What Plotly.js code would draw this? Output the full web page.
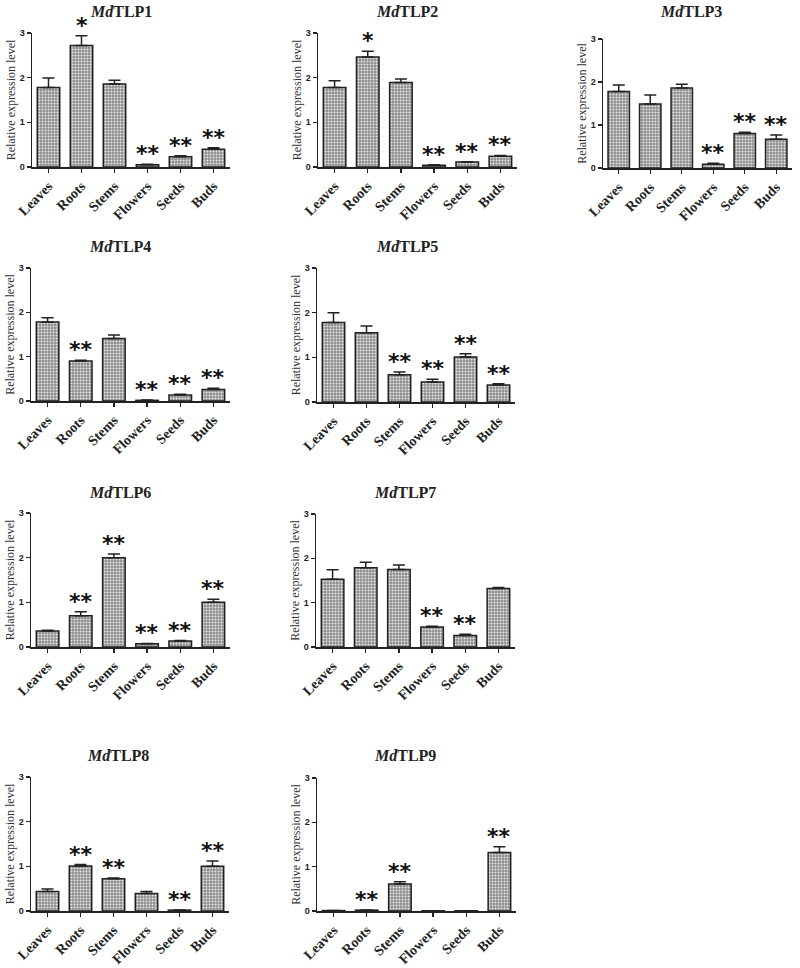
<!DOCTYPE html>
<html>
<head>
<meta charset="utf-8">
<script src="https://cdn.plot.ly/plotly-3.0.1.min.js"></script>
<style>html,body{margin:0;padding:0;background:#fff;}#chart{width:800px;height:968px;}</style>
</head>
<body>
<div id="chart"></div>
<script>
// ---- data ----
const tissues = ["Leaves", "Roots", "Stems", "Flowers", "Seeds", "Buds"];
const geneNames = ["TLP1", "TLP2", "TLP3", "TLP4", "TLP5", "TLP6", "TLP7", "TLP8", "TLP9"];
const yTicks = [0, 1, 2, 3];

const tlp1 = [1.78, 2.72, 1.86, 0.05, 0.23, 0.40];
const err1 = [0.21, 0.22, 0.08, 0.01, 0.02, 0.03];
const sig1 = ["", "*", "", "**", "**", "**"];

const tlp2 = [1.78, 2.46, 1.89, 0.04, 0.11, 0.24];
const err2 = [0.15, 0.13, 0.08, 0.01, 0.01, 0.02];
const sig2 = ["", "*", "", "**", "**", "**"];

const tlp3 = [1.78, 1.49, 1.86, 0.09, 0.80, 0.67];
const err3 = [0.15, 0.21, 0.09, 0.02, 0.03, 0.10];
const sig3 = ["", "", "", "**", "**", "**"];

const tlp4 = [1.78, 0.90, 1.41, 0.015, 0.135, 0.26];
const err4 = [0.10, 0.02, 0.08, 0.005, 0.015, 0.025];
const sig4 = ["", "**", "", "**", "**", "**"];

const tlp5 = [1.78, 1.55, 0.61, 0.45, 1.01, 0.38];
const err5 = [0.22, 0.15, 0.06, 0.06, 0.07, 0.03];
const sig5 = ["", "", "**", "**", "**", "**"];

const tlp6 = [0.36, 0.70, 2.00, 0.075, 0.135, 1.00];
const err6 = [0.015, 0.09, 0.08, 0.005, 0.01, 0.07];
const sig6 = ["", "**", "**", "**", "**", "**"];

const tlp7 = [1.53, 1.79, 1.75, 0.45, 0.26, 1.32];
const err7 = [0.21, 0.12, 0.10, 0.02, 0.03, 0.02];
const sig7 = ["", "", "", "**", "**", ""];

const tlp8 = [0.435, 1.005, 0.72, 0.39, 0.02, 1.00];
const err8 = [0.06, 0.035, 0.02, 0.045, 0.005, 0.12];
const sig8 = ["", "**", "**", "", "**", "**"];

const tlp9 = [0.01, 0.02, 0.61, 0.005, 0.005, 1.32];
const err9 = [0.003, 0.005, 0.05, 0.002, 0.002, 0.13];
const sig9 = ["", "**", "**", "", "", "**"];

const values = [tlp1, tlp2, tlp3, tlp4, tlp5, tlp6, tlp7, tlp8, tlp9];
const errors = [err1, err2, err3, err4, err5, err6, err7, err8, err9];
const signif = [sig1, sig2, sig3, sig4, sig5, sig6, sig7, sig8, sig9];

// ---- layout geometry (pixels in the 800x968 page) ----
const W = 800, H = 968;
const boxes = [
  {x0: 32, x1: 230, y0: 33, y1: 167, tx: 121, ty: 12},
  {x0: 318, x1: 517, y0: 33, y1: 167, tx: 407, ty: 12},
  {x0: 603, x1: 792, y0: 39, y1: 168, tx: 691, ty: 12},
  {x0: 31, x1: 230, y0: 268, y1: 401, tx: 120, ty: 246},
  {x0: 317, x1: 515, y0: 268, y1: 402, tx: 407, ty: 246},
  {x0: 31, x1: 230, y0: 513, y1: 647, tx: 120, ty: 492},
  {x0: 316, x1: 515, y0: 514, y1: 647, tx: 405, ty: 492},
  {x0: 31, x1: 229, y0: 777, y1: 911, tx: 118, ty: 755},
  {x0: 317, x1: 516, y0: 778, y1: 911, tx: 405, ty: 755}
];

const data = [];
const layout = {
  width: W, height: H,
  margin: {l: 0, r: 0, t: 0, b: 0},
  paper_bgcolor: "#fff", plot_bgcolor: "#fff",
  showlegend: false,
  bargap: 0.32,
  annotations: []
};

values.forEach((vals, i) => {
  const n = i + 1;
  const xa = n === 1 ? "x" : "x" + n;
  const ya = n === 1 ? "y" : "y" + n;
  const b = boxes[i];
  data.push({
    type: "bar",
    x: tissues, y: vals,
    xaxis: xa, yaxis: ya,
    marker: {
      color: "#9a9a9a",
      line: {color: "#222", width: 1.5},
      pattern: {shape: ".", fgcolor: "#e6e6e6", bgcolor: "#8e8e8e", size: 3, solidity: 0.35}
    },
    error_y: {
      type: "data", symmetric: false,
      array: errors[i], arrayminus: tissues.map(() => 0),
      color: "#222", thickness: 1.5, width: 6
    },
    hoverinfo: "skip"
  });
  layout["xaxis" + (n === 1 ? "" : n)] = {
    domain: [b.x0 / W, b.x1 / W],
    anchor: ya,
    type: "category",
    range: [-0.5, 5.5],
    showline: true, linecolor: "#222", linewidth: 1.5,
    ticks: "outside", ticklen: 4, tickwidth: 1.2, tickcolor: "#222",
    tickangle: -45,
    tickfont: {family: "Liberation Serif", size: 14, color: "#222", weight: 700},
    showgrid: false, zeroline: false, fixedrange: true
  };
  layout["yaxis" + (n === 1 ? "" : n)] = {
    domain: [1 - b.y1 / H, 1 - b.y0 / H],
    anchor: xa,
    range: [0, 3],
    tickvals: yTicks,
    showline: true, linecolor: "#222", linewidth: 1.5,
    ticks: "outside", ticklen: 4, tickwidth: 1.2, tickcolor: "#222",
    tickfont: {family: "Liberation Sans", size: 9, color: "#222", weight: 700},
    title: {text: "Relative expression level", font: {family: "Liberation Serif", size: 12, color: "#333"}, standoff: 1},
    showgrid: false, zeroline: false, fixedrange: true
  };
  layout.annotations.push({
    xref: "paper", yref: "paper",
    x: b.tx / W, y: 1 - b.ty / H,
    xanchor: "center", yanchor: "middle",
    text: "<b><i>Md</i>" + geneNames[i] + "</b>",
    showarrow: false,
    font: {family: "Liberation Serif", size: 16, color: "#222"}
  });
  signif[i].forEach((s, k) => {
    if (!s) return;
    layout.annotations.push({
      xref: xa, yref: ya,
      x: tissues[k], y: vals[k] + errors[i][k],
      xanchor: "center", yanchor: "bottom",
      yshift: -4,
      text: s, showarrow: false,
      font: {family: "DejaVu Sans", size: 22, color: "#111", weight: 700}
    });
  });
});

Plotly.newPlot("chart", data, layout, {staticPlot: true, displayModeBar: false});
</script>
</body>
</html>
